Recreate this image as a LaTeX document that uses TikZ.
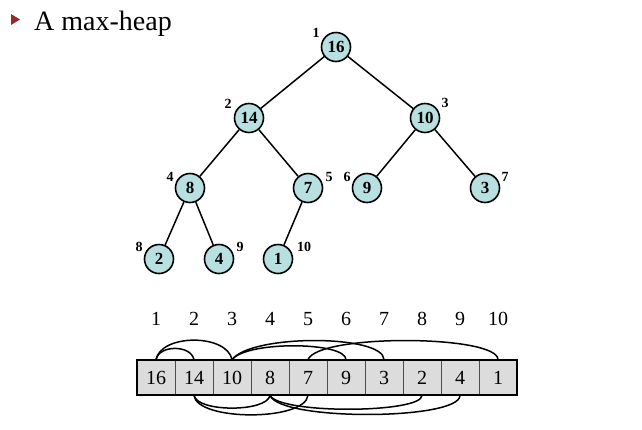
\documentclass[tikz,border=0pt]{standalone}
\usepackage{fontspec}
\setmainfont{Liberation Serif}
\begin{document}
\begin{tikzpicture}[x=1pt,y=-1pt,
  hnode/.style={circle,draw,line width=1.6pt,fill=heapfill,minimum size=29pt,inner sep=0pt,font=\fontsize{17}{17}\selectfont\bfseries},
  idx/.style={inner sep=0pt,font=\fontsize{14}{14}\selectfont\bfseries},
  cell/.style={draw=black!70,line width=0.7pt,fill=cellfill,minimum width=38pt,minimum height=35pt,inner sep=0pt,font=\fontsize{20}{20}\selectfont},
  aidx/.style={inner sep=0pt,font=\fontsize{20}{20}\selectfont},
  edge/.style={line width=1.5pt},
  arc/.style={line width=1.5pt}]
\definecolor{heapfill}{RGB}{184,224,224}
\definecolor{cellfill}{RGB}{220,220,220}
\definecolor{bulletred}{RGB}{150,40,40}
\useasboundingbox (0,0) rectangle (642,429);
% title
\fill[bulletred] (11,14) -- (20,19.5) -- (11,25) -- cycle;
\node[anchor=base west,inner sep=0pt,font=\fontsize{28}{28}\selectfont] (title) at (34,30) {A max-heap};
% tree
\node[hnode] (n1) at (336,47) {16};
\node[hnode] (n2) at (249,118) {14};
\node[hnode] (n3) at (425,118) {10};
\node[hnode] (n4) at (190,188) {8};
\node[hnode] (n5) at (308,188) {7};
\node[hnode] (n6) at (367,188) {9};
\node[hnode] (n7) at (485,188) {3};
\node[hnode] (n8) at (159,259) {2};
\node[hnode] (n9) at (219,259) {4};
\node[hnode] (n10) at (278,259) {1};
\draw[edge] (n1) -- (n2);
\draw[edge] (n1) -- (n3);
\draw[edge] (n2) -- (n4);
\draw[edge] (n2) -- (n5);
\draw[edge] (n3) -- (n6);
\draw[edge] (n3) -- (n7);
\draw[edge] (n4) -- (n8);
\draw[edge] (n4) -- (n9);
\draw[edge] (n5) -- (n10);
\node[idx] (l1) at (316,33) {1};
\node[idx] (l2) at (228,104) {2};
\node[idx] (l3) at (445,103) {3};
\node[idx] (l4) at (170,177) {4};
\node[idx] (l5) at (329,177) {5};
\node[idx] (l6) at (347,177) {6};
\node[idx] (l7) at (505,177) {7};
\node[idx] (l8) at (139,247) {8};
\node[idx] (l9) at (240,247) {9};
\node[idx] (l10) at (304,247) {10};
% array
\foreach \v [count=\i] in {16,14,10,8,7,9,3,2,4,1} {
  \node[cell] (c\i) at ({156+38*(\i-1)},377.5) {\v};
  \node[aidx] (a\i) at ({156+38*(\i-1)},319) {\i};
}
\draw[line width=1.8pt] (c1.north west) rectangle (c10.south east);
% arcs above
\draw[arc] (c1.north) .. controls +(3,-15) and +(-3,-15) .. (c2.north);
\draw[arc] (c1.north) .. controls +(5,-26) and +(-5,-26) .. (c3.north);
\draw[arc] (c3.north) .. controls +(15,-19) and +(0,-18) .. (c6.north);
\draw[arc] (c3.north) .. controls +(20,-26) and +(0,-25) .. (c7.north);
\draw[arc] (c5.north) .. controls +(10,-26) and +(0,-25) .. (c10.north);
% arcs below
\draw[arc] (c2.south) .. controls +(3,17) and +(-3,17) .. (c4.south);
\draw[arc] (c2.south) .. controls +(3,26) and +(-3,26) .. (c5.south);
\draw[arc] (c4.south) .. controls +(10,19) and +(0,18) .. (c8.south);
\draw[arc] (c4.south) .. controls +(10,26) and +(0,25) .. (c9.south);
\end{tikzpicture}
\end{document}
